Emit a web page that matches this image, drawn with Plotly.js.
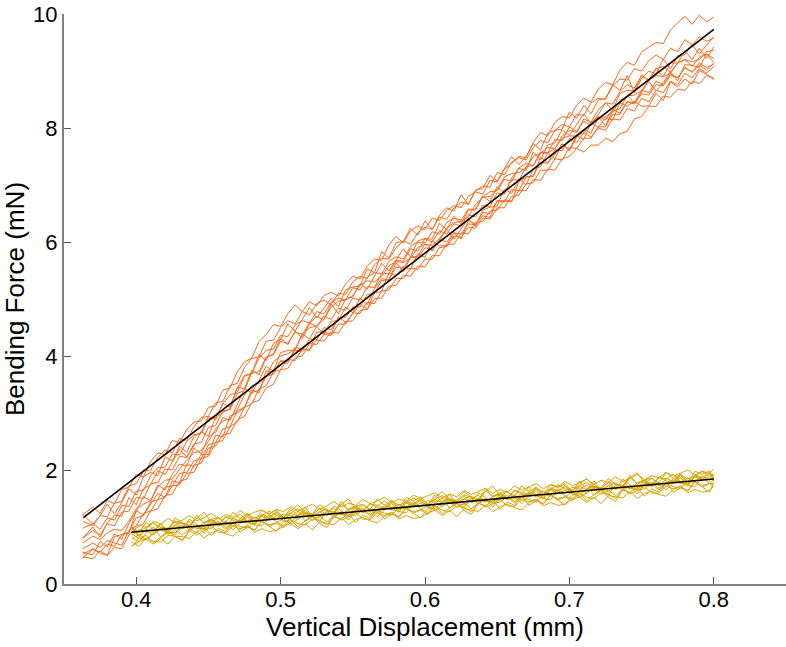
<!DOCTYPE html>
<html>
<head>
<meta charset="utf-8">
<script src="https://cdn.plot.ly/plotly-3.0.1.min.js"></script>
<style>html,body{margin:0;padding:0;background:#fff;}#chart{width:786px;height:647px;}</style>
</head>
<body>
<div id="chart"></div>
<script>
// Vertical displacement (mm) sample points
const orangeX = [0.363,0.370,0.375,0.380,0.385,0.390,0.395,0.400,0.405,0.410,0.415,0.420,0.425,0.430,0.435,0.440,0.445,0.450,0.455,0.460,0.465,0.470,0.475,0.480,0.485,0.490,0.495,0.500,0.505,0.510,0.515,0.520,0.525,0.530,0.535,0.540,0.545,0.550,0.555,0.560,0.565,0.570,0.575,0.580,0.585,0.590,0.595,0.600,0.605,0.610,0.615,0.620,0.625,0.630,0.635,0.640,0.645,0.650,0.655,0.660,0.665,0.670,0.675,0.680,0.685,0.690,0.695,0.700,0.705,0.710,0.715,0.720,0.725,0.730,0.735,0.740,0.745,0.750,0.755,0.760,0.765,0.770,0.775,0.780,0.785,0.790,0.795,0.800];
const goldX = [0.397,0.402,0.407,0.412,0.417,0.422,0.427,0.432,0.437,0.442,0.447,0.452,0.457,0.462,0.467,0.472,0.477,0.482,0.487,0.492,0.497,0.502,0.507,0.512,0.517,0.522,0.527,0.532,0.537,0.542,0.547,0.552,0.557,0.562,0.567,0.572,0.577,0.582,0.587,0.592,0.597,0.602,0.607,0.612,0.617,0.622,0.627,0.632,0.637,0.642,0.647,0.652,0.657,0.662,0.667,0.672,0.677,0.682,0.687,0.692,0.697,0.702,0.707,0.712,0.717,0.722,0.727,0.732,0.737,0.742,0.747,0.752,0.757,0.762,0.767,0.772,0.777,0.782,0.787,0.792,0.797,0.800];

// Bending force (mN), stiffer group (orange)
const orange1 = [1.22,1.35,1.24,1.46,1.41,1.66,1.70,1.92,1.88,2.15,2.30,2.27,2.52,2.48,2.71,2.84,2.86,3.10,3.12,3.40,3.44,3.72,3.90,3.96,4.25,4.38,4.55,4.52,4.74,4.90,4.78,4.95,4.88,5.06,5.12,5.05,5.26,5.40,5.35,5.58,5.70,5.68,5.95,6.10,5.98,6.20,6.28,6.22,6.42,6.38,6.55,6.64,6.60,6.80,6.88,6.84,7.08,7.05,7.28,7.38,7.50,7.48,7.75,7.92,7.86,8.10,8.20,8.18,8.40,8.52,8.46,8.68,8.80,8.76,9.02,9.15,9.10,9.33,9.42,9.50,9.48,9.72,9.85,9.96,9.82,9.98,9.86,9.95];
const orange2 = [1.10,1.02,1.20,1.18,1.42,1.45,1.72,1.76,1.98,2.00,2.22,2.35,2.30,2.55,2.52,2.76,2.92,2.94,3.18,3.20,3.48,3.52,3.80,3.96,3.98,4.26,4.28,4.50,4.62,4.56,4.78,4.72,4.92,4.98,4.90,5.10,5.08,5.30,5.40,5.36,5.60,5.72,5.70,5.90,6.02,5.96,6.16,6.26,6.22,6.44,6.40,6.60,6.70,6.66,6.90,6.98,6.96,7.22,7.18,7.40,7.48,7.44,7.66,7.78,7.74,7.96,8.06,8.02,8.24,8.22,8.44,8.52,8.50,8.74,8.86,8.84,9.04,9.00,9.18,9.28,9.20,9.40,9.34,9.55,9.46,9.60,9.52,9.58];
const orange3 = [0.98,1.06,0.96,1.16,1.12,1.38,1.36,1.63,1.64,1.90,2.04,2.05,2.28,2.26,2.50,2.62,2.64,2.90,2.92,3.16,3.32,3.36,3.64,3.70,3.96,4.10,4.12,4.36,4.34,4.54,4.62,4.58,4.78,4.74,4.94,5.02,4.98,5.20,5.16,5.38,5.46,5.44,5.66,5.74,5.70,5.92,6.00,5.98,6.18,6.14,6.34,6.42,6.38,6.58,6.56,6.80,6.88,6.90,7.10,7.06,7.30,7.38,7.34,7.56,7.66,7.64,7.86,7.96,7.92,8.16,8.10,8.32,8.44,8.42,8.64,8.76,8.70,8.92,8.84,9.04,9.08,8.98,9.14,9.20,9.08,9.24,9.30,9.22];
const orange4 = [0.80,0.94,0.86,1.06,1.02,1.26,1.28,1.52,1.50,1.76,1.78,2.02,2.00,2.24,2.22,2.46,2.48,2.75,2.78,3.04,3.06,3.34,3.40,3.70,3.72,3.98,4.02,4.26,4.22,4.42,4.38,4.58,4.52,4.70,4.64,4.84,4.80,5.02,4.98,5.22,5.20,5.45,5.44,5.68,5.66,5.88,5.84,6.06,6.00,6.20,6.14,6.32,6.28,6.48,6.44,6.64,6.62,6.86,6.84,7.10,7.08,7.32,7.34,7.58,7.56,7.80,7.78,8.02,7.94,8.12,8.04,8.20,8.14,8.32,8.26,8.46,8.44,8.66,8.62,8.82,8.76,8.95,8.88,9.06,8.98,9.14,9.06,9.12];
const orange5 = [0.72,0.84,0.78,0.90,0.96,0.94,1.10,1.32,1.40,1.46,1.70,1.82,1.84,2.00,2.18,2.30,2.34,2.50,2.72,2.86,2.90,3.06,3.32,3.48,3.52,3.64,3.90,4.00,4.04,4.12,4.36,4.50,4.52,4.64,4.86,4.96,4.98,5.06,5.24,5.32,5.30,5.40,5.58,5.66,5.64,5.72,5.90,5.96,5.94,6.06,6.24,6.34,6.36,6.44,6.66,6.78,6.80,6.92,7.14,7.20,7.22,7.30,7.50,7.56,7.56,7.64,7.82,7.86,7.86,7.92,8.10,8.18,8.20,8.28,8.48,8.56,8.58,8.66,8.84,8.92,8.90,8.96,9.14,9.20,9.16,9.20,9.34,9.36];
const orange6 = [0.52,0.62,0.56,0.70,0.66,0.86,0.92,1.16,1.20,1.44,1.48,1.70,1.72,1.94,1.96,2.16,2.20,2.44,2.48,2.72,2.76,3.04,3.10,3.36,3.40,3.64,3.68,3.92,3.90,4.10,4.08,4.30,4.28,4.50,4.46,4.66,4.68,4.86,4.86,5.08,5.10,5.32,5.34,5.56,5.54,5.74,5.72,5.90,5.86,6.04,6.00,6.16,6.14,6.32,6.30,6.52,6.50,6.72,6.70,6.92,6.90,7.14,7.16,7.40,7.38,7.62,7.60,7.82,7.74,7.92,7.84,8.00,7.96,8.16,8.14,8.34,8.30,8.52,8.46,8.66,8.62,8.82,8.76,8.96,8.88,9.04,8.96,9.08];
const orange7 = [0.48,0.44,0.58,0.50,0.64,0.62,0.86,0.98,1.06,1.28,1.32,1.55,1.58,1.80,1.84,2.08,2.12,2.38,2.42,2.62,2.64,2.88,2.94,3.18,3.22,3.44,3.50,3.76,3.78,3.98,4.00,4.22,4.20,4.38,4.36,4.56,4.56,4.76,4.74,4.94,4.92,5.14,5.16,5.36,5.36,5.54,5.52,5.70,5.70,5.90,5.92,6.10,6.08,6.26,6.24,6.42,6.40,6.60,6.60,6.80,6.82,7.02,7.04,7.26,7.26,7.46,7.44,7.66,7.64,7.82,7.82,8.02,8.02,8.24,8.24,8.46,8.42,8.60,8.58,8.76,8.74,8.92,8.88,9.06,8.98,9.10,9.02,9.14];
const orange8 = [0.62,0.72,0.64,0.76,0.72,0.68,0.94,1.02,1.24,1.28,1.48,1.52,1.72,1.74,1.94,1.96,2.20,2.24,2.48,2.52,2.76,2.84,3.10,3.16,3.42,3.48,3.72,3.76,3.94,3.92,4.12,4.10,4.28,4.26,4.42,4.40,4.60,4.62,4.80,4.82,5.00,5.02,5.22,5.24,5.42,5.40,5.58,5.56,5.76,5.76,5.96,5.96,6.16,6.14,6.34,6.36,6.54,6.56,6.74,6.72,6.90,6.90,7.10,7.08,7.28,7.26,7.46,7.50,7.64,7.58,7.70,7.70,7.82,7.76,7.90,7.94,8.16,8.20,8.38,8.38,8.56,8.54,8.68,8.66,8.82,8.78,8.92,8.88];
const orange9 = [1.22,1.05,1.20,1.40,1.23,1.43,1.67,1.56,1.88,1.96,1.90,2.23,2.16,2.42,2.31,2.59,2.66,2.94,2.88,3.17,3.10,3.44,3.66,3.69,4.03,3.92,4.22,4.29,4.56,4.44,4.64,4.85,4.67,4.83,5.01,4.86,5.16,5.21,5.23,5.53,5.46,5.83,5.72,5.99,6.01,6.24,6.12,6.37,6.22,6.47,6.60,6.54,6.83,6.66,6.91,6.94,7.17,7.07,7.28,7.50,7.36,7.50,7.73,7.61,7.91,7.96,7.98,8.28,8.17,8.40,8.25,8.49,8.52,8.76,8.66,8.92,8.62,8.87,9.00,8.94,9.21,9.04,9.27,9.29,9.46,9.30,9.45,9.60];
const orange10 = [0.56,0.51,0.75,0.65,0.88,0.78,1.07,1.27,1.53,1.46,1.74,1.65,1.93,2.10,2.07,2.39,2.28,2.58,2.66,2.92,2.87,3.15,3.43,3.35,3.57,3.82,3.73,4.06,4.10,4.10,4.39,4.30,4.52,4.38,4.61,4.62,4.86,4.76,5.02,4.90,5.18,5.36,5.33,5.64,5.48,5.73,5.75,5.97,5.84,6.03,6.22,6.05,6.22,6.41,6.27,6.56,6.61,6.63,6.93,6.85,7.11,7.00,7.28,7.32,7.56,7.46,7.72,7.60,7.84,7.98,7.91,8.19,8.04,8.30,8.34,8.57,8.44,8.63,8.82,8.65,8.80,8.99,8.83,9.11,9.10,9.06,9.30,9.15];
const orange11 = [0.81,1.00,0.82,1.07,1.21,1.19,1.52,1.39,1.67,1.74,1.99,1.92,2.14,2.37,2.23,2.43,2.68,2.59,2.93,3.01,3.08,3.45,3.43,3.75,3.67,3.97,4.04,4.31,4.20,4.44,4.31,4.57,4.70,4.64,4.91,4.74,5.00,5.04,5.27,5.17,5.39,5.63,5.49,5.68,5.88,5.74,6.02,6.06,6.05,6.33,6.22,6.45,6.32,6.56,6.58,6.81,6.71,6.97,6.85,7.12,7.29,7.26,7.58,7.44,7.70,7.74,7.97,7.87,8.05,8.25,8.07,8.23,8.44,8.31,8.61,8.66,8.65,8.93,8.82,9.05,8.90,9.14,9.14,9.36,9.20,9.40,9.22,9.42];
const orange12 = [0.46,0.61,0.54,0.50,0.83,0.87,0.89,1.29,1.21,1.39,1.59,1.52,1.81,1.77,2.10,2.06,2.27,2.27,2.61,2.58,2.95,3.00,3.10,3.41,3.35,3.74,3.72,3.91,3.87,4.15,4.13,4.10,4.42,4.42,4.38,4.69,4.59,4.74,4.92,4.82,5.11,5.13,5.46,5.41,5.57,5.52,5.80,5.73,6.02,5.93,5.94,6.16,6.05,6.38,6.31,6.46,6.43,6.73,6.72,6.70,7.06,7.14,7.15,7.49,7.39,7.54,7.72,7.62,7.87,7.80,8.09,8.01,8.18,8.14,8.44,8.38,8.47,8.38,8.39,8.61,8.48,8.81,8.72,8.86,8.77,9.01,8.94,8.85];

// Bending force (mN), softer group (gold)
const gold1 = [0.98,1.04,0.99,1.10,1.05,1.15,1.08,1.12,1.20,1.11,1.16,1.24,1.14,1.22,1.17,1.29,1.20,1.26,1.30,1.22,1.31,1.27,1.36,1.28,1.34,1.40,1.31,1.37,1.45,1.35,1.42,1.38,1.48,1.41,1.46,1.52,1.43,1.49,1.45,1.56,1.50,1.55,1.60,1.51,1.58,1.53,1.64,1.57,1.62,1.68,1.59,1.66,1.61,1.72,1.65,1.70,1.76,1.67,1.74,1.70,1.80,1.72,1.78,1.84,1.75,1.82,1.78,1.88,1.80,1.86,1.92,1.83,1.90,1.86,1.96,1.89,1.94,2.00,1.91,1.98,1.94,2.02];
const gold2 = [0.99,0.91,1.00,1.07,0.99,0.98,1.10,1.06,1.03,1.16,1.08,1.14,1.05,1.17,1.15,1.10,1.23,1.15,1.21,1.14,1.25,1.17,1.25,1.32,1.23,1.21,1.33,1.29,1.26,1.40,1.31,1.37,1.28,1.40,1.38,1.33,1.46,1.38,1.44,1.37,1.48,1.40,1.49,1.55,1.46,1.44,1.56,1.52,1.49,1.63,1.54,1.60,1.51,1.63,1.61,1.57,1.69,1.61,1.67,1.60,1.71,1.64,1.72,1.78,1.69,1.67,1.79,1.75,1.73,1.86,1.77,1.83,1.74,1.86,1.85,1.80,1.92,1.84,1.90,1.83,1.94,1.89];
const gold3 = [0.85,0.95,0.93,0.86,0.99,0.96,1.09,0.97,1.03,0.97,1.08,1.13,1.02,1.10,1.01,1.15,1.10,1.17,1.11,1.21,1.13,1.23,1.20,1.13,1.25,1.21,1.32,1.20,1.26,1.21,1.31,1.36,1.25,1.33,1.24,1.38,1.33,1.40,1.34,1.44,1.36,1.46,1.44,1.36,1.48,1.44,1.55,1.43,1.49,1.44,1.54,1.59,1.48,1.56,1.47,1.62,1.56,1.63,1.57,1.67,1.59,1.70,1.67,1.59,1.71,1.67,1.78,1.66,1.73,1.67,1.77,1.82,1.71,1.79,1.71,1.85,1.79,1.86,1.80,1.90,1.82,1.88];
const gold4 = [0.88,0.80,0.78,0.91,0.97,0.91,0.90,1.01,1.10,0.98,0.97,1.06,1.10,0.99,1.08,1.12,1.07,1.06,1.19,1.13,1.19,1.11,1.08,1.21,1.25,1.18,1.16,1.26,1.33,1.22,1.20,1.29,1.33,1.22,1.31,1.35,1.30,1.29,1.42,1.36,1.42,1.34,1.32,1.44,1.48,1.41,1.39,1.49,1.56,1.45,1.43,1.52,1.56,1.45,1.54,1.59,1.53,1.52,1.65,1.59,1.65,1.58,1.55,1.67,1.71,1.64,1.62,1.72,1.80,1.68,1.66,1.75,1.79,1.68,1.78,1.82,1.76,1.75,1.88,1.82,1.88,1.82];
const gold5 = [0.79,0.87,0.78,0.88,0.97,0.87,0.96,0.86,0.97,1.02,0.95,0.98,1.07,0.96,1.06,1.01,0.98,1.11,1.09,1.04,1.07,1.15,1.05,1.14,1.22,1.11,1.19,1.09,1.20,1.26,1.18,1.21,1.30,1.19,1.29,1.24,1.21,1.34,1.32,1.27,1.30,1.38,1.29,1.37,1.45,1.34,1.42,1.32,1.43,1.49,1.41,1.44,1.53,1.42,1.52,1.48,1.44,1.57,1.55,1.50,1.53,1.62,1.52,1.60,1.68,1.57,1.65,1.55,1.67,1.72,1.64,1.67,1.76,1.65,1.76,1.71,1.67,1.80,1.78,1.73,1.76,1.83];
const gold6 = [0.74,0.66,0.81,0.75,0.74,0.85,0.84,0.77,0.93,0.86,0.94,1.02,0.91,0.90,1.02,0.97,1.03,0.94,1.11,1.01,1.07,0.99,1.13,1.06,1.04,1.14,1.12,1.04,1.19,1.12,1.18,1.25,1.14,1.13,1.25,1.20,1.26,1.17,1.34,1.24,1.30,1.22,1.37,1.29,1.27,1.37,1.35,1.27,1.42,1.35,1.41,1.48,1.37,1.36,1.48,1.44,1.49,1.40,1.57,1.47,1.53,1.46,1.60,1.52,1.50,1.60,1.58,1.50,1.66,1.58,1.64,1.71,1.60,1.59,1.72,1.67,1.72,1.63,1.80,1.70,1.76,1.76];
const gold7 = [0.67,0.74,0.79,0.70,0.80,0.70,0.84,0.83,0.80,0.92,0.81,0.90,0.94,0.88,0.84,0.96,1.02,0.91,0.97,0.92,0.94,1.01,1.06,0.97,1.06,0.95,1.09,1.07,1.04,1.16,1.04,1.13,1.17,1.11,1.07,1.19,1.25,1.14,1.20,1.15,1.17,1.24,1.30,1.20,1.29,1.18,1.32,1.30,1.27,1.39,1.27,1.36,1.40,1.34,1.30,1.43,1.48,1.37,1.43,1.38,1.40,1.48,1.53,1.43,1.52,1.41,1.55,1.53,1.51,1.62,1.50,1.59,1.63,1.57,1.54,1.66,1.71,1.60,1.66,1.61,1.63,1.72];
const gold8 = [0.96,0.91,1.08,0.95,1.04,0.93,1.04,1.08,1.00,1.21,1.06,1.12,1.04,1.19,1.11,1.09,1.21,1.08,1.20,1.28,1.21,1.16,1.33,1.20,1.29,1.18,1.27,1.31,1.23,1.45,1.29,1.35,1.27,1.42,1.34,1.32,1.44,1.31,1.43,1.51,1.44,1.39,1.57,1.43,1.52,1.41,1.50,1.54,1.46,1.68,1.52,1.58,1.50,1.65,1.57,1.56,1.67,1.54,1.66,1.74,1.67,1.63,1.80,1.66,1.75,1.64,1.73,1.77,1.70,1.91,1.75,1.81,1.73,1.88,1.81,1.79,1.90,1.77,1.89,1.97,1.90,1.93];
const gold9 = [0.99,0.85,0.97,1.08,0.94,0.92,1.16,1.07,1.00,1.16,1.26,1.08,1.16,1.08,1.26,1.15,1.24,1.10,1.29,1.23,1.30,1.16,1.28,1.39,1.25,1.23,1.39,1.30,1.23,1.40,1.49,1.31,1.39,1.31,1.49,1.38,1.47,1.33,1.52,1.46,1.53,1.39,1.52,1.62,1.48,1.46,1.62,1.53,1.46,1.63,1.72,1.54,1.62,1.54,1.72,1.62,1.70,1.56,1.75,1.69,1.76,1.63,1.75,1.85,1.71,1.69,1.85,1.76,1.70,1.86,1.95,1.77,1.85,1.77,1.96,1.85,1.93,1.79,1.98,1.92,1.99,1.85];
const gold10 = [0.81,0.74,0.90,1.00,0.82,0.90,0.87,1.05,0.94,1.02,0.89,1.08,1.02,1.09,0.95,1.07,1.18,1.04,1.02,1.18,1.09,1.02,1.18,1.28,1.10,1.18,1.10,1.28,1.17,1.26,1.12,1.31,1.25,1.32,1.18,1.30,1.41,1.27,1.25,1.41,1.32,1.25,1.42,1.51,1.33,1.41,1.33,1.51,1.40,1.49,1.35,1.54,1.48,1.55,1.41,1.54,1.64,1.50,1.48,1.64,1.55,1.49,1.65,1.74,1.56,1.64,1.56,1.74,1.64,1.72,1.58,1.77,1.71,1.78,1.65,1.77,1.87,1.73,1.71,1.87,1.78,1.71];
const gold11 = [0.99,0.83,0.96,0.91,1.07,0.90,1.03,0.98,1.14,1.04,0.97,1.13,1.17,1.03,1.14,1.23,1.10,1.03,1.23,1.17,1.27,1.11,1.24,1.19,1.35,1.18,1.26,1.21,1.37,1.28,1.20,1.36,1.40,1.26,1.37,1.46,1.33,1.26,1.46,1.40,1.50,1.34,1.48,1.42,1.58,1.41,1.49,1.44,1.60,1.51,1.43,1.59,1.63,1.49,1.60,1.70,1.56,1.49,1.69,1.63,1.73,1.58,1.71,1.65,1.81,1.64,1.72,1.67,1.84,1.74,1.66,1.82,1.86,1.72,1.84,1.93,1.79,1.72,1.92,1.86,1.96,1.80];
const gold12 = [0.65,0.81,0.85,0.72,0.83,0.92,0.83,0.76,0.96,0.90,1.01,0.85,0.98,0.92,1.08,0.91,1.00,0.95,1.11,1.01,0.93,1.09,1.13,1.00,1.11,1.20,1.06,0.99,1.19,1.14,1.24,1.08,1.21,1.15,1.31,1.14,1.23,1.18,1.34,1.24,1.16,1.32,1.37,1.23,1.34,1.43,1.29,1.22,1.42,1.37,1.47,1.31,1.44,1.38,1.54,1.38,1.46,1.41,1.57,1.47,1.39,1.56,1.60,1.46,1.57,1.66,1.52,1.45,1.66,1.60,1.70,1.54,1.67,1.61,1.78,1.61,1.69,1.64,1.80,1.70,1.62,1.78];

// Linear fits (end points)
const orangeFitX = [0.3634, 0.800];
const orangeFitY = [1.163, 9.73];
const goldFitX = [0.3965, 0.800];
const goldFitY = [0.909, 1.842];

// Axis ticks
const xTickVals = [0.4, 0.5, 0.6, 0.7, 0.8];
const xTickText = ['0.4', '0.5', '0.6', '0.7', '0.8'];
const yTickVals = [0, 2, 4, 6, 8, 10];
const yTickText = ['0', '2', '4', '6', '8', '10'];

const ORANGE = 'rgb(255,104,24)';
const GOLD = 'rgb(217,164,0)';

const goldSeries = [gold1, gold2, gold3, gold4, gold5, gold6, gold7, gold8, gold9, gold10, gold11, gold12];
const orangeSeries = [orange1, orange2, orange3, orange4, orange5, orange6, orange7, orange8, orange9, orange10, orange11, orange12];

const traces = [];
goldSeries.forEach(function (ys) {
  traces.push({x: goldX, y: ys, type: 'scatter', mode: 'lines', line: {color: GOLD, width: 1}, hoverinfo: 'skip', showlegend: false});
});
orangeSeries.forEach(function (ys) {
  traces.push({x: orangeX, y: ys, type: 'scatter', mode: 'lines', line: {color: ORANGE, width: 1}, hoverinfo: 'skip', showlegend: false});
});
traces.push({x: orangeFitX, y: orangeFitY, type: 'scatter', mode: 'lines', line: {color: '#000', width: 1.6}, showlegend: false});
traces.push({x: goldFitX, y: goldFitY, type: 'scatter', mode: 'lines', line: {color: '#000', width: 1.6}, showlegend: false});

const FONT = 'Liberation Sans, Arial, Helvetica, sans-serif';
const layout = {
  width: 786, height: 647,
  margin: {l: 64, r: 0, t: 14, b: 63, pad: 0},
  paper_bgcolor: '#fff', plot_bgcolor: '#fff',
  showlegend: false,
  font: {family: FONT, color: '#000', size: 22},
  xaxis: {
    range: [0.35, 0.85], tickvals: xTickVals, ticktext: xTickText,
    ticks: 'inside', ticklen: 7, tickwidth: 1, tickcolor: '#555',
    showline: true, linecolor: '#808080', linewidth: 2,
    showgrid: false, zeroline: false,
    ticklabelstandoff: -5,
    tickfont: {family: FONT, size: 22, color: '#000'},
    title: {text: 'Vertical Displacement (mm)', font: {family: FONT, size: 26, color: '#000'}, standoff: 2}
  },
  yaxis: {
    range: [0, 10], tickvals: yTickVals, ticktext: yTickText,
    ticks: 'inside', ticklen: 7, tickwidth: 1, tickcolor: '#555',
    showline: true, linecolor: '#808080', linewidth: 2,
    showgrid: false, zeroline: false,
    tickfont: {family: FONT, size: 22, color: '#000'},
    title: {text: 'Bending Force (mN)', font: {family: FONT, size: 26, color: '#000'}, standoff: 6}
  }
};

Plotly.newPlot('chart', traces, layout, {staticPlot: true, displayModeBar: false});
</script>
</body>
</html>
